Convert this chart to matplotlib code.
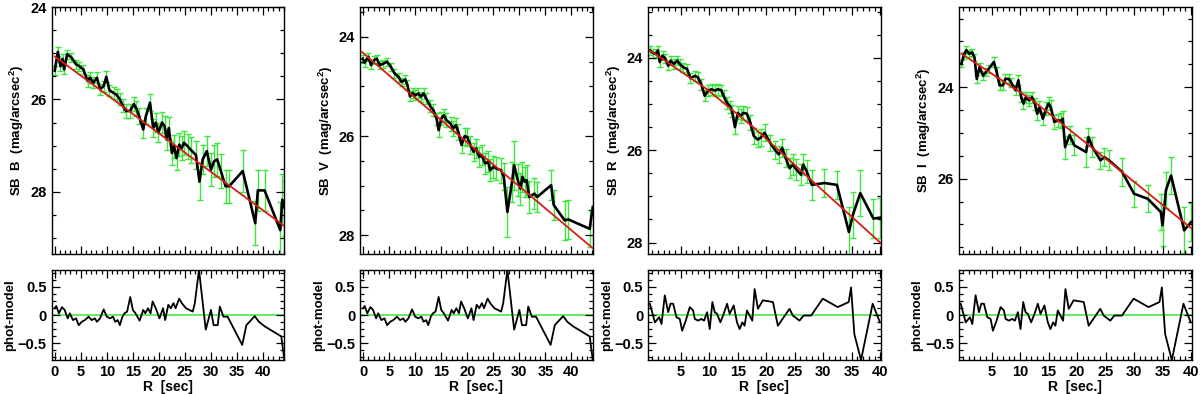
import numpy as np
import matplotlib
matplotlib.use('Agg')
import matplotlib.pyplot as plt
from matplotlib.ticker import MultipleLocator, AutoMinorLocator

# ---- surface brightness profiles (R in arcsec, SB in mag/arcsec^2) ----
r_b = [0.0, 0.6, 1.1, 1.5, 1.8, 2.4, 3.2, 4.1, 4.7, 5.5, 6.3, 6.8, 7.4, 8.1, 8.7, 9.4,
       9.9, 10.5, 11.3, 11.9, 12.5, 13.1, 13.7, 14.5, 15.2, 15.7, 16.2, 17.0, 17.5, 18.3,
       18.9, 19.4, 19.9, 20.6, 21.1, 21.5, 21.9, 22.5, 22.9, 23.4, 23.9, 24.4, 24.8, 25.5,
       26.1, 27.1, 27.8, 28.4, 29.2, 30.0, 30.6, 31.2, 31.9, 32.8, 33.5, 36.1, 38.5, 39.0,
       40.3, 43.3, 43.7, 44.2]
sb_b = [25.38, 24.97, 25.28, 25.12, 25.35, 25.02, 25.09, 25.24, 25.28, 25.35, 25.60, 25.53,
        25.64, 25.53, 25.78, 25.71, 25.51, 25.80, 25.86, 25.90, 26.00, 26.14, 26.25, 26.25,
        26.10, 26.20, 26.36, 26.65, 26.36, 26.07, 26.62, 26.50, 26.72, 26.50, 26.58, 26.87,
        26.62, 27.16, 27.01, 27.27, 26.98, 27.05, 26.94, 27.01, 27.09, 27.20, 27.78, 27.30,
        27.12, 27.52, 27.34, 27.30, 27.55, 27.88, 27.88, 27.55, 28.68, 27.97, 27.97, 28.83,
        28.17, 28.36]
err_b = [0.10, 0.10, 0.10, 0.10, 0.10, 0.10, 0.10, 0.10, 0.10, 0.10, 0.12, 0.12, 0.12, 0.12,
         0.12, 0.12, 0.12, 0.12, 0.12, 0.13, 0.13, 0.14, 0.15, 0.15, 0.16, 0.16, 0.17, 0.18,
         0.18, 0.18, 0.20, 0.20, 0.20, 0.22, 0.22, 0.23, 0.23, 0.25, 0.25, 0.25, 0.25, 0.26,
         0.26, 0.27, 0.28, 0.30, 0.40, 0.32, 0.32, 0.35, 0.35, 0.35, 0.36, 0.36, 0.36, 0.45,
         0.48, 0.45, 0.45, 0.60, 0.55, 0.60]

r_v = [-0.1, 0.3, 1.0, 1.5, 2.1, 2.6, 3.2, 3.9, 4.6, 5.3, 6.0, 6.8, 7.4, 8.1, 8.5, 9.0,
       9.5, 10.0, 10.6, 11.1, 11.6, 12.1, 12.9, 13.5, 14.1, 14.5, 15.0, 15.5, 16.0, 16.8,
       17.3, 17.8, 18.3, 18.9, 19.5, 20.0, 20.6, 21.2, 21.7, 22.3, 22.8, 23.4, 24.0, 24.4,
       25.0, 25.5, 26.5, 27.0, 27.7, 28.6, 29.0, 29.7, 30.2, 30.6, 31.0, 31.4, 31.9, 32.9,
       33.4, 36.1, 36.6, 38.7, 39.4, 43.5, 44.1]
sb_v = [24.44, 24.52, 24.40, 24.57, 24.47, 24.44, 24.57, 24.54, 24.50, 24.60, 24.73, 24.81,
        24.91, 24.86, 24.97, 25.20, 25.13, 25.18, 25.14, 25.21, 25.14, 25.24, 25.40, 25.48,
        25.65, 25.88, 25.65, 25.58, 25.68, 25.75, 25.85, 25.78, 25.92, 26.18, 26.00, 26.02,
        26.18, 26.32, 26.25, 26.42, 26.39, 26.55, 26.52, 26.69, 26.62, 26.65, 26.69, 26.82,
        27.53, 26.92, 26.59, 26.89, 27.06, 26.82, 26.92, 26.89, 27.23, 27.16, 27.23, 26.99,
        27.39, 27.70, 27.68, 27.87, 27.43]
err_v = [0.08, 0.08, 0.08, 0.08, 0.08, 0.08, 0.08, 0.08, 0.08, 0.08, 0.09, 0.09, 0.09, 0.09,
         0.10, 0.10, 0.10, 0.10, 0.10, 0.10, 0.11, 0.11, 0.12, 0.12, 0.12, 0.13, 0.13, 0.13,
         0.14, 0.14, 0.15, 0.15, 0.16, 0.17, 0.17, 0.18, 0.18, 0.19, 0.19, 0.20, 0.20, 0.21,
         0.21, 0.22, 0.22, 0.23, 0.25, 0.27, 0.50, 0.40, 0.50, 0.32, 0.32, 0.30, 0.30, 0.30,
         0.32, 0.32, 0.30, 0.30, 0.30, 0.40, 0.40, 0.37, 0.37]

r_r = [-0.4, 0.2, 0.6, 1.0, 1.3, 1.8, 2.3, 2.8, 3.2, 3.8, 4.4, 4.8, 5.4, 6.1, 6.7, 7.5,
       8.0, 8.6, 9.2, 9.8, 10.4, 11.0, 11.5, 12.1, 12.5, 13.1, 13.7, 14.0, 14.5, 15.0,
       15.5, 16.0, 16.6, 17.2, 17.8, 18.5, 19.0, 19.7, 20.7, 21.5, 22.2, 22.8, 23.4, 24.1,
       24.7, 25.3, 26.1, 26.5, 27.1, 28.0, 30.2, 32.4, 34.5, 35.2, 36.5, 38.8, 40.0]
sb_r = [23.84, 23.90, 23.91, 23.84, 24.09, 23.95, 24.02, 24.17, 24.06, 24.13, 24.06, 24.13,
        24.20, 24.24, 24.44, 24.39, 24.42, 24.57, 24.82, 24.71, 24.68, 24.71, 24.68, 24.70,
        24.82, 24.97, 25.06, 25.15, 25.50, 25.19, 25.26, 25.19, 25.21, 25.40, 25.69, 25.77,
        25.73, 25.62, 25.84, 25.99, 26.09, 25.95, 26.17, 26.39, 26.31, 26.42, 26.53, 26.31,
        26.46, 26.75, 26.71, 26.75, 27.77, 27.40, 26.93, 27.48, 27.46]
err_r = [0.10, 0.10, 0.10, 0.10, 0.10, 0.10, 0.10, 0.10, 0.10, 0.10, 0.10, 0.10, 0.10, 0.11,
         0.11, 0.11, 0.11, 0.12, 0.12, 0.12, 0.12, 0.12, 0.12, 0.12, 0.13, 0.13, 0.13, 0.14,
         0.14, 0.14, 0.15, 0.15, 0.15, 0.16, 0.17, 0.17, 0.18, 0.18, 0.18, 0.19, 0.19, 0.20,
         0.20, 0.22, 0.22, 0.22, 0.23, 0.23, 0.25, 0.33, 0.30, 0.30, 0.55, 0.50, 0.50, 0.42,
         0.43]

r_i = [-0.3, 0.1, 0.55, 1.1, 1.6, 2.0, 2.4, 2.9, 3.5, 4.0, 4.5, 5.4, 5.9, 6.4, 7.0, 7.4,
       8.0, 8.4, 9.2, 9.7, 10.2, 10.6, 11.0, 11.6, 12.1, 12.6, 13.0, 13.4, 14.0, 14.6,
       15.0, 15.4, 16.0, 16.6, 17.2, 17.5, 17.9, 18.7, 19.5, 21.6, 22.0, 22.7, 24.1, 24.8,
       25.6, 27.9, 30.0, 32.4, 34.7, 35.0, 35.6, 36.5, 38.8, 40.0]
sb_i = [23.49, 23.31, 23.19, 23.27, 23.24, 23.35, 23.82, 23.56, 23.75, 23.67, 23.60, 23.45,
        23.67, 23.96, 23.96, 23.82, 23.82, 23.89, 24.07, 23.85, 24.22, 24.36, 24.22, 24.29,
        24.22, 24.36, 24.58, 24.44, 24.69, 24.47, 24.36, 24.44, 24.76, 24.73, 24.73, 24.69,
        25.31, 25.05, 25.27, 25.42, 25.09, 25.31, 25.60, 25.53, 25.60, 25.85, 26.33, 26.44,
        26.73, 27.02, 26.25, 25.93, 27.13, 26.95]
err_i = [0.08, 0.08, 0.08, 0.08, 0.08, 0.08, 0.09, 0.09, 0.09, 0.09, 0.09, 0.10, 0.10, 0.10,
         0.10, 0.10, 0.10, 0.10, 0.11, 0.11, 0.11, 0.12, 0.12, 0.12, 0.12, 0.13, 0.13, 0.13,
         0.14, 0.14, 0.14, 0.15, 0.15, 0.15, 0.16, 0.16, 0.25, 0.20, 0.22, 0.33, 0.20, 0.22,
         0.18, 0.20, 0.22, 0.30, 0.28, 0.30, 0.40, 0.45, 0.40, 0.40, 0.50, 0.42]

# ---- model fits (red lines), sampled at a few radii ----
mod_r_b = [0.0, 11.0, 22.0, 33.0, 44.2]
mod_sb_b = [25.07, 25.98, 26.90, 27.82, 28.75]
mod_r_v = [-0.3, 22.0, 44.2]
mod_sb_v = [24.30, 26.31, 28.27]
mod_r_r = [-0.4, 9.5, 18.2, 28.2, 40.0]
mod_sb_r = [23.84, 24.67, 25.55, 26.68, 28.00]
mod_r_i = [-0.3, 12.2, 23.9, 40.1]
mod_sb_i = [23.27, 24.29, 25.45, 27.09]

# ---- residuals phot-model (B and V panels share one, R and I share one) ----
res_r_bv = [0.0, 0.3, 0.8, 1.4, 1.9, 2.5, 2.9, 3.5, 4.1, 4.6, 5.2, 5.8, 6.5, 7.1, 7.7, 8.1,
            8.7, 9.4, 10.0, 10.6, 11.2, 11.6, 12.1, 12.5, 13.0, 13.4, 13.9, 14.5, 15.0, 15.5,
            16.3, 17.0, 17.4, 17.9, 18.4, 18.8, 19.4, 20.1, 20.8, 21.2, 21.8, 22.3, 22.8, 23.2,
            23.9, 24.4, 25.2, 26.5, 26.9, 27.7, 29.0, 30.0, 30.5, 31.3, 31.7, 32.4, 33.2, 36.0,
            36.8, 38.4, 39.2, 40.3, 43.5, 44.1]
res_bv = [0.12, 0.16, 0.03, 0.14, 0.09, -0.06, 0.03, -0.09, -0.06, -0.18, -0.12, -0.09, -0.03,
          -0.09, -0.06, -0.12, -0.06, 0.10, -0.03, -0.06, -0.03, -0.12, -0.09, -0.18, -0.03,
          0.03, 0.06, 0.32, 0.09, 0.03, -0.10, 0.09, 0.03, 0.12, 0.03, 0.24, 0.12, -0.06, 0.12,
          -0.09, 0.18, 0.12, 0.21, 0.12, 0.29, 0.21, 0.12, 0.06, 0.21, 0.80, -0.26, 0.09, -0.18,
          -0.18, 0.15, -0.03, -0.03, -0.53, -0.18, -0.02, -0.12, -0.20, -0.38, -0.80]
res_r_ri = [-0.42, 0.46, 1.21, 1.62, 2.2, 2.79, 3.2, 3.66, 4.25, 4.83, 5.24, 5.88, 6.58, 7.17,
            7.46, 8.04, 8.62, 9.09, 9.62, 10.08, 10.55, 10.96, 11.37, 11.95, 12.53, 13.12, 13.58,
            14.28, 14.87, 15.33, 15.8, 16.2, 16.62, 17.08, 17.55, 17.96, 18.54, 19.4, 21.17,
            22.04, 24.08, 24.67, 25.84, 26.54, 27.88, 29.92, 32.54, 34.47, 34.88, 35.46, 36.63,
            38.67, 39.95]
res_ri = [0.20, -0.13, -0.04, -0.16, 0.35, 0.05, 0.20, 0.20, -0.04, -0.07, -0.28, -0.10, 0.14,
          0.08, -0.07, -0.10, -0.07, -0.10, 0.05, -0.25, 0.23, 0.05, 0.02, -0.13, 0.02, 0.20,
          0.02, 0.17, -0.13, -0.25, -0.13, -0.19, 0.08, -0.01, -0.10, 0.46, 0.11, 0.26, 0.23,
          -0.19, 0.11, -0.01, -0.10, -0.01, -0.01, 0.29, 0.14, 0.23, 0.49, -0.34, -0.80, 0.20,
          -0.13]

bands = ['B', 'V', 'R', 'I']
xlabels = ['R  [sec]', 'R  [sec.]', 'R  [sec]', 'R  [sec.]']
profiles = [(r_b, sb_b, err_b), (r_v, sb_v, err_v), (r_r, sb_r, err_r), (r_i, sb_i, err_i)]
models = [(mod_r_b, mod_sb_b), (mod_r_v, mod_sb_v), (mod_r_r, mod_sb_r), (mod_r_i, mod_sb_i)]
resids = [(res_r_bv, res_bv), (res_r_bv, res_bv), (res_r_ri, res_ri), (res_r_ri, res_ri)]

# layout / axis limits per column
lefts = [0.043, 0.300, 0.540, 0.799]
width = 0.194
ylims = [(29.35, 24.0), (28.38, 23.4), (28.25, 22.9), (27.65, 22.25)]
xlims = [(-0.6, 44.1), (-0.6, 44.1), (-0.75, 40.1), (-0.75, 40.1)]
xticks = [np.arange(0, 41, 5), np.arange(0, 41, 5), np.arange(5, 41, 5), np.arange(5, 41, 5)]

GREEN = '#3ce63c'
RED = '#d81c16'

plt.rcParams['font.family'] = ['Liberation Sans', 'DejaVu Sans']
plt.rcParams['font.weight'] = 'bold'
plt.rcParams['mathtext.fontset'] = 'custom'
plt.rcParams['mathtext.bf'] = 'Liberation Sans:bold'
plt.rcParams['mathtext.rm'] = 'Liberation Sans:bold'

fig = plt.figure(figsize=(12, 3.94), dpi=100)


def style_axes(ax):
    ax.tick_params(which='both', direction='in', top=True, right=True, width=0.9,
                   labelsize=10.5)
    ax.tick_params(which='major', length=6)
    ax.tick_params(which='minor', length=3)
    for sp in ax.spines.values():
        sp.set_linewidth(1.0)
    for lab in ax.get_xticklabels() + ax.get_yticklabels():
        lab.set_fontweight('bold')


for k in range(4):
    r, sb, err = profiles[k]
    mr, msb = models[k]
    rr, res = resids[k]

    ax = fig.add_axes([lefts[k], 0.355, width, 0.627])
    ax.errorbar(r, sb, yerr=err, fmt='none', ecolor=GREEN, elinewidth=1.0,
                capsize=2.5, capthick=1.0, zorder=1)
    ax.plot(r, sb, color='black', lw=1.9, zorder=3)
    ax.plot(mr, msb, color=RED, lw=1.3, zorder=4)
    ax.set_xlim(*xlims[k])
    ax.set_ylim(*ylims[k])
    ax.set_xticks(xticks[k])
    ax.xaxis.set_minor_locator(MultipleLocator(1))
    ax.set_xticklabels([])
    ax.yaxis.set_major_locator(MultipleLocator(2))
    ax.yaxis.set_minor_locator(MultipleLocator(0.5))
    ax.set_ylabel('SB  %s  (mag/arcsec$^{2}$)' % bands[k], fontsize=9.5,
                  fontweight='bold', labelpad=3)
    style_axes(ax)

    axr = fig.add_axes([lefts[k], 0.086, width, 0.229])
    axr.axhline(0, color=GREEN, lw=1.1, zorder=1)
    axr.plot(rr, res, color='black', lw=1.3, zorder=3)
    axr.set_xlim(*xlims[k])
    axr.set_ylim(-0.8, 0.8)
    axr.set_xticks(xticks[k])
    axr.xaxis.set_minor_locator(MultipleLocator(1))
    axr.yaxis.set_minor_locator(AutoMinorLocator(4))
    axr.set_yticks([-0.5, 0, 0.5])
    axr.set_yticklabels(['\u22120.5', '0', '0.5'])
    axr.set_xlabel(xlabels[k], fontsize=10, fontweight='bold', labelpad=1)
    axr.set_ylabel('phot-model', fontsize=9.5, fontweight='bold', labelpad=1)
    style_axes(axr)

fig.savefig('out.png', dpi=100)
